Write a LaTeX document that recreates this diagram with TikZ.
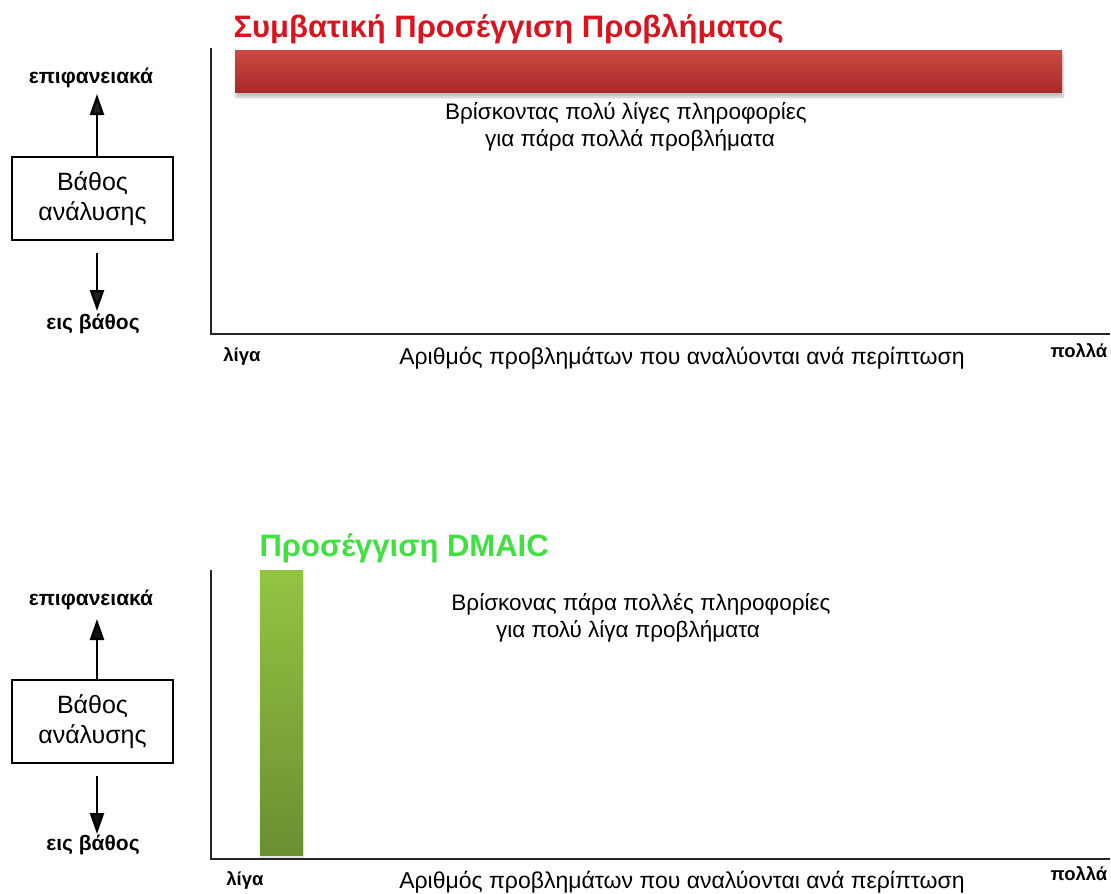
\documentclass[tikz,border=0pt]{standalone}
\usepackage{fontspec}
\setmainfont{Liberation Sans}
\usetikzlibrary{arrows.meta,shadows.blur}
\definecolor{titlered}{HTML}{D9141E}
\definecolor{titlegreen}{HTML}{3FE03F}
\definecolor{bartop}{HTML}{CC4A45}
\definecolor{barbot}{HTML}{A82A28}
\definecolor{gbartop}{HTML}{93C441}
\definecolor{gbarbot}{HTML}{6A8F31}
\tikzset{
  axis/.style={line width=2.2pt, draw=black!85},
  depthbox/.style={draw, line width=2pt, minimum width=161pt, minimum height=83pt,
    align=center, font=\fontsize{25}{30}\selectfont, inner sep=0pt},
  deptharrow/.style={line width=2.4pt, -{Triangle[length=21pt,width=14pt]}},
  endlabel/.style={font=\bfseries\fontsize{21}{24}\selectfont},
  ticklabel/.style={font=\bfseries\fontsize{18.5}{20}\selectfont},
  axislabel/.style={font=\fontsize{23}{26}\selectfont},
  note/.style={font=\fontsize{22.5}{27}\selectfont},
  paneltitle/.style={font=\bfseries\fontsize{31}{34}\selectfont, anchor=west}
}
\begin{document}
\begin{tikzpicture}[x=1pt,y=-1pt]
\useasboundingbox (0,0) rectangle (1111,894);

% ---------- upper panel: conventional approach ----------
\node[paneltitle, text=titlered] (t1) at (230,29) {Συμβατική Προσέγγιση Προβλήματος};
\coordinate (o1) at (211,334);
\coordinate (y1) at (211,48);
\coordinate (x1) at (1110,334);
\draw[axis] (y1) -- (o1) -- (x1);
\fill[blur shadow={shadow xshift=1pt, shadow yshift=-5pt, shadow blur steps=8, shadow opacity=25},
  top color=bartop, bottom color=barbot] (235,50) rectangle (1062,92);
\node[note] (n1a) at (626,113) {Βρίσκοντας πολύ λίγες πληροφορίες};
\node[note] (n1b) at (630,140) {για πάρα πολλά προβλήματα};

\node[depthbox] (b1) at (92.5,198.5) {Βάθος\\ανάλυσης};
\node[endlabel] (u1) at (91,78) {επιφανειακά};
\node[endlabel] (d1) at (93,324) {εις βάθος};
\coordinate (ua1) at (97,94);
\coordinate (da1) at (97,311);
\draw[deptharrow] ([xshift=4.5pt]b1.north) -- (ua1);
\draw[deptharrow] ([xshift=4.5pt,yshift=-12pt]b1.south) -- (da1);

\node[ticklabel] (l1) at (242,356) {λίγα};
\node[axislabel] (a1) at (682,358) {Αριθμός προβλημάτων που αναλύονται ανά περίπτωση};
\node[ticklabel] (p1) at (1079,351) {πολλά};

% ---------- lower panel: DMAIC approach ----------
\node[paneltitle, text=titlegreen] (t2) at (256,548) {Προσέγγιση DMAIC};
\coordinate (o2) at (211,859);
\coordinate (y2) at (211,570);
\coordinate (x2) at (1110,859);
\draw[axis] (y2) -- (o2) -- (x2);
\fill[blur shadow={shadow xshift=0pt, shadow yshift=-2pt, shadow blur steps=6, shadow opacity=15},
  top color=gbartop, bottom color=gbarbot] (260,570) rectangle (303,855);
\node[note] (n2a) at (641,604) {Βρίσκονας πάρα πολλές πληροφορίες};
\node[note] (n2b) at (628,631) {για πολύ λίγα προβλήματα};

\node[depthbox] (b2) at (92.5,721.5) {Βάθος\\ανάλυσης};
\node[endlabel] (u2) at (91,600) {επιφανειακά};
\node[endlabel] (d2) at (93,845) {εις βάθος};
\coordinate (ua2) at (97,619);
\coordinate (da2) at (97,834);
\draw[deptharrow] ([xshift=4.5pt]b2.north) -- (ua2);
\draw[deptharrow] ([xshift=4.5pt,yshift=-12pt]b2.south) -- (da2);

\node[ticklabel] (l2) at (245,880) {λίγα};
\node[axislabel] (a2) at (682,882) {Αριθμός προβλημάτων που αναλύονται ανά περίπτωση};
\node[ticklabel] (p2) at (1079,874) {πολλά};
\end{tikzpicture}
\end{document}
